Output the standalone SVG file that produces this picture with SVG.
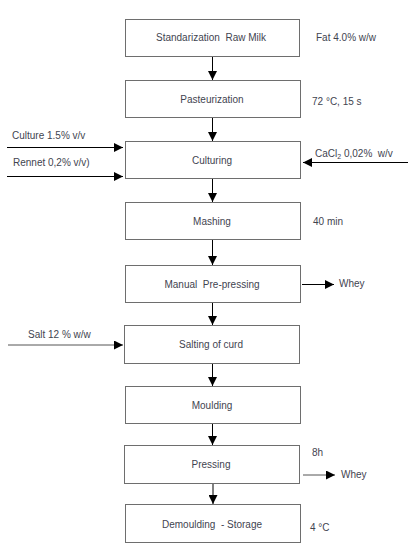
<svg xmlns="http://www.w3.org/2000/svg" width="418" height="548" viewBox="0 0 418 548">
<defs>
<marker id="ah" viewBox="0 0 10 10" refX="10" refY="5" markerWidth="9" markerHeight="9" markerUnits="userSpaceOnUse" orient="auto">
<path d="M0,0 L10,5 L0,10 z" fill="#000"/>
</marker>
<style>
.box{fill:#fff;stroke:#6e6e6e;stroke-width:1}
.t{font-family:"Liberation Sans",Arial,sans-serif;font-size:10px;fill:#3f4450;white-space:pre}
.c{text-anchor:middle}
.ln{stroke:#000;stroke-width:1;fill:none;marker-end:url(#ah)}
.lg{stroke:#555;stroke-width:1;fill:none;marker-end:url(#ah)}
</style>
</defs>
<rect width="418" height="548" fill="#fff"/>
<g id="n1"><rect class="box" x="125.5" y="19.5" width="174" height="37"/><text class="t c" x="211" y="41" xml:space="preserve">Standarization  Raw Milk</text></g>
<g id="n2"><rect class="box" x="125.5" y="80.5" width="175" height="37"/><text class="t c" x="212" y="103">Pasteurization</text></g>
<g id="n3"><rect class="box" x="125.5" y="141.5" width="175" height="37"/><text class="t c" x="212" y="164">Culturing</text></g>
<g id="n4"><rect class="box" x="125.5" y="202.5" width="175" height="37"/><text class="t c" x="212" y="225">Mashing</text></g>
<g id="n5"><rect class="box" x="125.5" y="265.5" width="175" height="37"/><text class="t c" x="212" y="288" xml:space="preserve">Manual  Pre-pressing</text></g>
<g id="n6"><rect class="box" x="124.5" y="325.5" width="175" height="38"/><text class="t c" x="211" y="348">Salting of curd</text></g>
<g id="n7"><rect class="box" x="125.5" y="386.5" width="175" height="37"/><text class="t c" x="212" y="409">Moulding</text></g>
<g id="n8"><rect class="box" x="124.5" y="445.5" width="175" height="38"/><text class="t c" x="211" y="468">Pressing</text></g>
<g id="n9"><rect class="box" x="125.5" y="504.5" width="175" height="38"/><text class="t c" x="212" y="528" xml:space="preserve">Demoulding  - Storage</text></g>
<g id="labels">
<text class="t" x="316" y="41">Fat 4.0% w/w</text>
<text class="t" x="312" y="105">72 °C, 15 s</text>
<text class="t" x="12" y="139">Culture 1.5% v/v</text>
<text class="t" x="13" y="166">Rennet 0,2% v/v)</text>
<text class="t" x="315" y="157" xml:space="preserve">CaCl<tspan font-size="7" dy="2">2</tspan><tspan dy="-2"> 0,02%  w/v</tspan></text>
<text class="t" x="313" y="225">40 min</text>
<text class="t" x="339" y="287">Whey</text>
<text class="t" x="28" y="338">Salt 12 % w/w</text>
<text class="t" x="312" y="456">8h</text>
<text class="t" x="341" y="478">Whey</text>
<text class="t" x="310" y="531">4 °C</text>
</g>
<g id="connectors">
<line class="ln" x1="212.5" y1="57" x2="212.5" y2="80"/>
<line class="ln" x1="212.5" y1="118" x2="212.5" y2="141"/>
<line class="ln" x1="212.5" y1="179" x2="212.5" y2="202"/>
<line class="ln" x1="212.5" y1="240" x2="212.5" y2="265"/>
<line class="ln" x1="212.5" y1="303" x2="212.5" y2="325"/>
<line class="ln" x1="212.5" y1="364" x2="212.5" y2="386"/>
<line class="ln" x1="212.5" y1="424" x2="212.5" y2="445"/>
<line class="ln" x1="213" y1="484" x2="213" y2="504"/>
<line class="ln" x1="7" y1="147.5" x2="123" y2="147.5"/>
<line class="ln" x1="7" y1="176.5" x2="123" y2="176.5"/>
<line class="ln" x1="408" y1="162.5" x2="303" y2="162.5"/>
<line class="ln" x1="302" y1="284.5" x2="334" y2="284.5"/>
<line class="lg" x1="8" y1="345" x2="123" y2="345"/>
<line class="lg" x1="303" y1="475" x2="335" y2="475"/>
</g>
</svg>
